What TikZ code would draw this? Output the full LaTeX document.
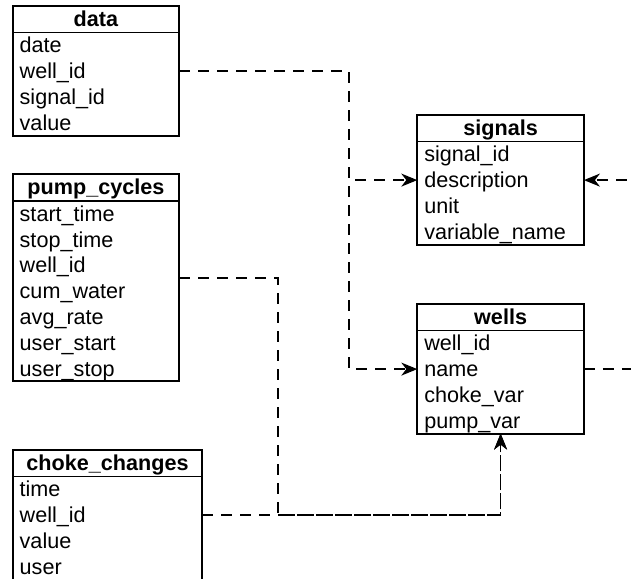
\documentclass[tikz,border=0pt]{standalone}
\usepackage{fontspec}
\setmainfont{Liberation Sans}
\usetikzlibrary{positioning,arrows.meta}

\newcommand\tblfont{\fontsize{10.8pt}{13pt}\selectfont}

\begin{document}
\begin{tikzpicture}[
    node distance=0pt,
    thead/.style={draw, line width=0.9pt, font=\tblfont\bfseries, text width=#1, align=center, outer sep=0pt,
        inner xsep=3.5pt, inner ysep=0pt, minimum height=13.2pt, text height=8.5pt, text depth=1.5pt},
    trow/.style={font=\tblfont, text width=#1, align=left, outer sep=0pt,
        inner xsep=3.5pt, inner ysep=0pt, minimum height=12.9pt, text height=8.8pt, text depth=1.2pt},
    tbox/.style={line width=0.9pt},
    link/.style={line width=0.8pt, dash pattern=on 5.5pt off 4pt},
    arrow/.style={link, -{Stealth[length=8pt, width=6.5pt, inset=2.5pt]}}
]

\useasboundingbox (0,0) rectangle (315.5pt,-289pt);
\clip (0,0) rectangle (315.5pt,-289pt);

% Table: data
\node[thead=76.2pt, anchor=north west] (dhead) at (6.35pt,-3pt) {data};
\node[trow=76.2pt, below=of dhead] (ddate) {date};
\node[trow=76.2pt, below=of ddate] (dwell) {well\_id};
\node[trow=76.2pt, below=of dwell] (dsig) {signal\_id};
\node[trow=76.2pt, below=of dsig] (dval) {value};
\draw[tbox] (dhead.south west) rectangle (dval.south east);

% Table: pump_cycles
\node[thead=76.2pt, anchor=north west] (phead) at (6.35pt,-87.15pt) {pump\_cycles};
\node[trow=76.2pt, below=of phead] (pstart) {start\_time};
\node[trow=76.2pt, below=of pstart] (pstop) {stop\_time};
\node[trow=76.2pt, below=of pstop] (pwell) {well\_id};
\node[trow=76.2pt, below=of pwell] (pcum) {cum\_water};
\node[trow=76.2pt, below=of pcum] (pavg) {avg\_rate};
\node[trow=76.2pt, below=of pavg] (pustart) {user\_start};
\node[trow=76.2pt, below=of pustart] (pustop) {user\_stop};
\draw[tbox] (phead.south west) rectangle (pustop.south east);

% Table: choke_changes
\node[thead=87.8pt, anchor=north west] (chead) at (6.35pt,-225pt) {choke\_changes};
\node[trow=87.8pt, below=of chead] (ctime) {time};
\node[trow=87.8pt, below=of ctime] (cwell) {well\_id};
\node[trow=87.8pt, below=of cwell] (cval) {value};
\node[trow=87.8pt, below=of cval] (cuser) {user};
\draw[tbox] (chead.south west) rectangle (cuser.south east);

% Table: signals
\node[thead=76.3pt, anchor=north west] (shead) at (208.65pt,-57.5pt) {signals};
\node[trow=76.3pt, below=of shead] (ssig) {signal\_id};
\node[trow=76.3pt, below=of ssig] (sdesc) {description};
\node[trow=76.3pt, below=of sdesc] (sunit) {unit};
\node[trow=76.3pt, below=of sunit] (svar) {variable\_name};
\draw[tbox] (shead.south west) rectangle (svar.south east);

% Table: wells
\node[thead=76.3pt, anchor=north west] (whead) at (208.65pt,-152pt) {wells};
\node[trow=76.3pt, below=of whead] (wwell) {well\_id};
\node[trow=76.3pt, below=of wwell] (wname) {name};
\node[trow=76.3pt, below=of wname] (wchoke) {choke\_var};
\node[trow=76.3pt, below=of wchoke] (wpump) {pump\_var};
\draw[tbox] (whead.south west) rectangle (wpump.south east);

% Links from data to signals and wells
\draw[arrow] (dwell.east) -- ++(85pt,0) |- (sdesc.west);
\draw[arrow] (dwell.east) -- ++(85pt,0) |- (wname.west);

% Links from pump_cycles and choke_changes to wells
\draw[arrow] (pwell.south east) -- ++(49.5pt,0) |- (cwell.east -| wpump.south) -- (wpump.south);
\draw[arrow] (cwell.east) -| (wpump.south);

% Link from wells back to signals (runs outside the frame)
\draw[arrow] (wname.east) -- ++(30pt,0) |- (sdesc.east);

\end{tikzpicture}
\end{document}
